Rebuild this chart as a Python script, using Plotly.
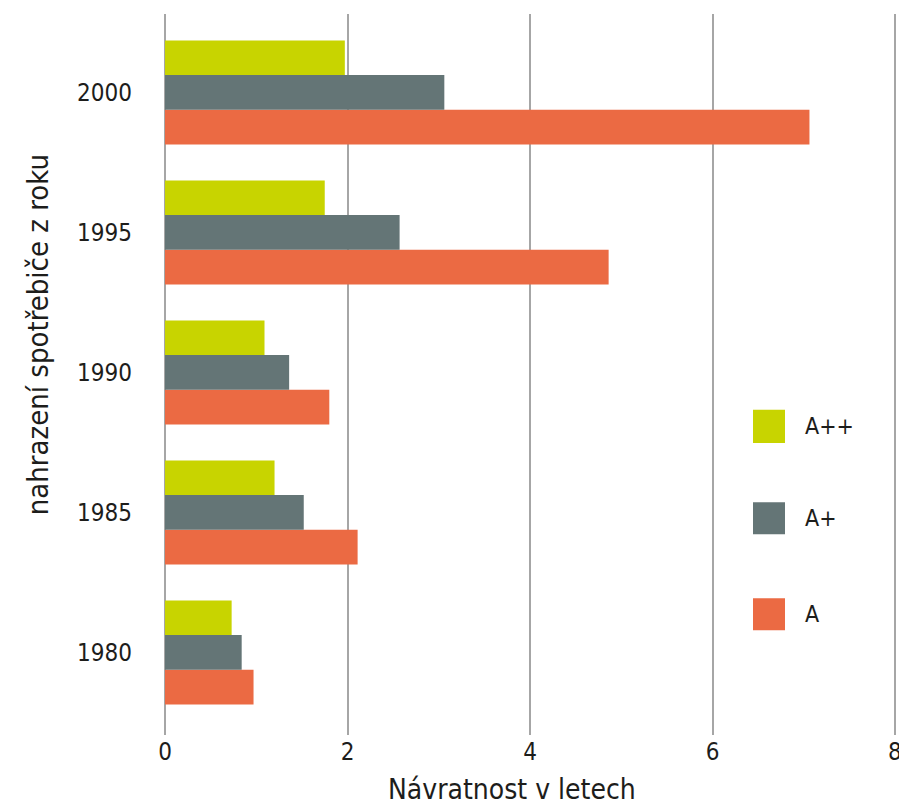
import plotly.graph_objects as go

years = ["1980", "1985", "1990", "1995", "2000"]
series_names = ["A", "A+", "A++"]
vals_A = [0.97, 2.11, 1.80, 4.86, 7.06]
vals_Ap = [0.84, 1.52, 1.36, 2.57, 3.06]
vals_App = [0.73, 1.20, 1.09, 1.75, 1.97]
colors = {"A": "#EB6A43", "A+": "#647576", "A++": "#C8D400"}
x_ticks = [0, 2, 4, 6, 8]

FONT = "Liberation Sans Narrow, DejaVu Sans Condensed, Roboto Condensed, Arial Narrow, sans-serif"
TXT = "#1d1d1b"

fig = go.Figure()
for name, vals in zip(series_names, [vals_A, vals_Ap, vals_App]):
    fig.add_trace(go.Bar(
        y=years, x=vals, orientation="h", name=name,
        marker=dict(color=colors[name], line=dict(width=0)),
        showlegend=False,
    ))

fig.update_layout(
    width=899, height=805,
    margin=dict(l=165, r=1, t=14, b=70, autoexpand=False),
    paper_bgcolor="white", plot_bgcolor="white",
    barmode="group", bargap=0.257, bargroupgap=0,
    font=dict(family=FONT, color=TXT, size=24),
)
fig.update_xaxes(
    range=[0, 8.03], tickvals=x_ticks, showgrid=True, gridcolor="#a6a6a6", gridwidth=2,
    zeroline=True, zerolinecolor="#a6a6a6", zerolinewidth=2, showline=False,
    ticks="", tickfont=dict(size=24, family=FONT, color=TXT), automargin=False,
)
fig.update_yaxes(
    type="category", range=[-0.59, 4.56], showgrid=False, showline=False, ticks="",
    tickfont=dict(size=24, family=FONT, color=TXT), ticklabelstandoff=32, automargin=False,
)

# last x tick label (plotly drops it at the page edge)
fig.add_annotation(xref="x", yref="paper", x=x_ticks[-1], y=(735 - 752) / 721.5,
                   text=str(x_ticks[-1]), showarrow=False, xanchor="center", yanchor="middle",
                   font=dict(size=24, family=FONT, color=TXT))

# axis titles
fig.add_annotation(xref="paper", yref="paper", x=(512 - 165) / 733, y=(735 - 790) / 721.5,
                   text="Návratnost v letech", showarrow=False, xanchor="center", yanchor="middle",
                   font=dict(size=28, family=FONT, color=TXT))
fig.add_annotation(xref="paper", yref="paper", x=(38 - 165) / 733, y=(735 - 335) / 721.5,
                   text="nahrazení spotřebiče z roku", showarrow=False, textangle=-90,
                   xanchor="center", yanchor="middle",
                   font=dict(size=29, family=FONT, color=TXT))

# custom legend
leg = [("A++", 0.405, 0.451), ("A+", 0.2785, 0.3227), ("A", 0.1452, 0.1895)]
for name, y0, y1 in leg:
    fig.add_shape(type="rect", xref="paper", yref="paper",
                  x0=(753 - 165) / 733, x1=(785 - 165) / 733, y0=y0, y1=y1,
                  fillcolor=colors[name], line=dict(width=0))
    fig.add_annotation(xref="paper", yref="paper", x=(803 - 165) / 733, y=(y0 + y1) / 2, text=name,
                       showarrow=False, xanchor="left", yanchor="middle",
                       font=dict(size=23, family=FONT, color=TXT))

fig.write_html("out.html", config={"displayModeBar": False},
               post_script="document.body.style.margin='0';document.body.style.overflow='hidden';")
